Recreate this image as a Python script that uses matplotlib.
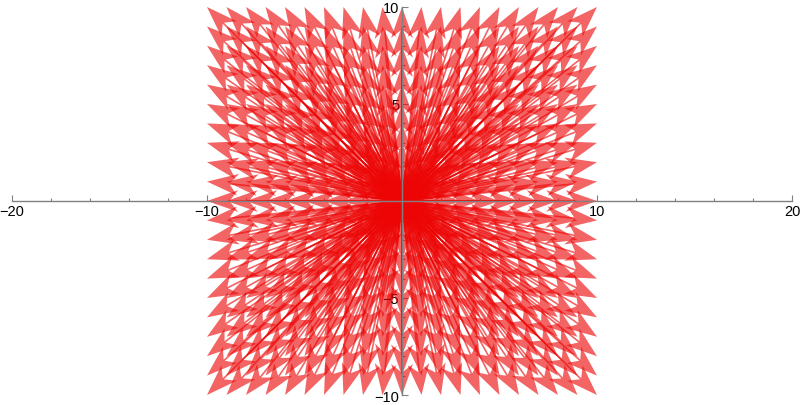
import matplotlib
matplotlib.use("Agg")
import matplotlib.pyplot as plt
import numpy as np
from matplotlib.patches import Polygon
from matplotlib.collections import PatchCollection, LineCollection

plt.rcParams['font.family'] = ['Liberation Sans', 'DejaVu Sans']

# grid of arrow end points (arrows start at the origin)
xs = list(range(-10, 11))
ys = list(range(-10, 11))

x_major = [-20, -10, 10, 20]
x_minor = [-18, -16, -14, -12, -8, -6, -4, -2, 2, 4, 6, 8, 12, 14, 16, 18]
y_major = [-10, -5, 5, 10]
y_minor = [-9, -8, -7, -6, -4, -3, -2, -1, 1, 2, 3, 4, 6, 7, 8, 9]

fig = plt.figure(figsize=(8, 4.06), dpi=100)
ax = fig.add_axes([12/800, 10/406, 780/800, 388/406])
ax.set_xlim(-20, 20)
ax.set_ylim(-10, 10)

# head size in data units
L = 1.6
W = 0.56
N = 0.72 * L
col = (0.93, 0.02, 0.02, 0.62)

heads = []
shafts = []
for x in xs:
    for y in ys:
        if x == 0 and y == 0:
            continue
        d = np.hypot(x, y)
        ux, uy = x / d, y / d
        px, py = -uy, ux
        tip = (x, y)
        b1 = (x - L*ux + W*px, y - L*uy + W*py)
        nb = (x - N*ux, y - N*uy)
        b2 = (x - L*ux - W*px, y - L*uy - W*py)
        heads.append(Polygon([tip, b1, nb, b2], closed=True))
        shafts.append([(0, 0), nb])

ax.add_collection(LineCollection(shafts, colors=[col], linewidths=1.2, zorder=2))
ax.add_collection(PatchCollection(heads, facecolor=col, edgecolor='none', zorder=3))

# mathematica-like axes through the origin
for s in ['top', 'right']:
    ax.spines[s].set_visible(False)
ax.spines['left'].set_position(('data', 0))
ax.spines['bottom'].set_position(('data', 0))
for s in ['left', 'bottom']:
    ax.spines[s].set_color('#808080')
    ax.spines[s].set_linewidth(1.0)
    ax.spines[s].set_zorder(5)

ax.set_xticks(x_major)
ax.set_xticklabels(['\u221220', '\u221210', '10', '20'])
ax.set_xticks(x_minor, minor=True)
ax.set_yticks(y_major)
ax.set_yticklabels(['\u221210', '\u22125', '5', '10'])
ax.set_yticks(y_minor, minor=True)
ax.tick_params(which='both', direction='in', color='#808080', width=0.8,
               labelsize=10.5, labelcolor='black', pad=2)
ax.tick_params(which='major', length=4)
ax.tick_params(which='minor', length=2.5)
ax.set_axisbelow(False)
ax.patch.set_visible(False)

fig.savefig('out.png', dpi=100)
